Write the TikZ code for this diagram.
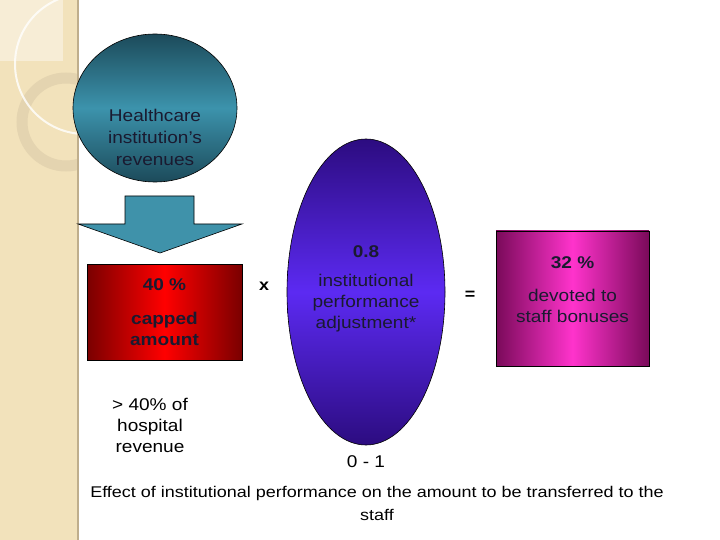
\documentclass[tikz,border=0pt]{standalone}
\usepackage{fontspec}
\setmainfont{Liberation Sans}[FakeStretch=1.12]
\newfontfamily\capfont{Liberation Sans}[FakeStretch=1.16]
\usetikzlibrary{shapes.geometric}
\definecolor{side}{HTML}{F2E2BB}
\definecolor{sidelight}{HTML}{F7EDD6}
\definecolor{sidering}{HTML}{E4D4B0}
\definecolor{sideline}{HTML}{BFAE8C}
\definecolor{tealdark}{HTML}{1C4A5A}
\definecolor{tealmid}{HTML}{3C93AC}
\definecolor{tealarrow}{HTML}{3F92AA}
\definecolor{reddark}{HTML}{7A0000}
\definecolor{redmid}{HTML}{FF0000}
\definecolor{purpdark}{HTML}{2C0C80}
\definecolor{purpmid}{HTML}{5C2AF2}
\definecolor{magdark}{HTML}{7A0A5A}
\definecolor{magmid}{HTML}{FF33CC}
\definecolor{inktext}{HTML}{1A1A30}
\begin{document}
\begin{tikzpicture}[x=1pt,y=-1pt,
  txt/.style={font=\fontsize{17}{21}\selectfont, text=black, align=center, inner sep=0pt},
  intxt/.style={txt, text=inktext},
  boldtxt/.style={txt, text=inktext, font=\fontsize{17}{21}\selectfont\bfseries},
  shapeline/.style={draw=black, line width=0.6pt}]
\useasboundingbox (0,0) rectangle (720,540);
\fill[white] (0,0) rectangle (720,540);
% sidebar
\fill[side] (0,0) rectangle (78,540);
\begin{scope}
  \clip (0,0) rectangle (78,540);
  \fill[sidelight] (0,0) rectangle (63,61);
  \draw[sidering, line width=11pt] (66,122) circle (44);
  \draw[white, line width=2pt, opacity=0.8] (85,64) circle (70);
\end{scope}
\draw[sideline, line width=1.5pt] (78,0) -- (78,540);

% healthcare circle
\shade[shapeline, top color=tealdark, bottom color=tealdark, middle color=tealmid]
  (155,108) ellipse [x radius=82, y radius=74];
\node[ellipse, minimum width=164pt, minimum height=148pt, inner sep=0pt] (rev) at (155,108) {};
\node[intxt, font=\fontsize{17}{22}\selectfont] (revtxt) at (155,137) {Healthcare\\institution’s\\revenues};

% block arrow
\path[shapeline, fill=tealarrow] (125,196) -- (194,196) -- (194,224) -- (242,224)
  -- (160,253) -- (78,224) -- (125,224) -- cycle;
\coordinate (arrowtip) at (160,253);

% red box
\node[draw=black, line width=0.6pt, minimum width=155pt, minimum height=96pt, inner sep=0pt,
      left color=reddark, right color=reddark, middle color=redmid] (cap) at (164.5,312) {};
\node[boldtxt] (captop) at (164.5,285) {40 \%};
\node[boldtxt] (captxt) at (164.5,328.5) {capped\\amount};

\node[txt] (hosp) at (150,425) {> 40\% of\\hospital\\revenue};

\node[txt, font=\fontsize{16}{21}\selectfont\bfseries] (times) at (264,286) {x};

% purple ellipse
\shade[shapeline, top color=purpdark, bottom color=purpdark, middle color=purpmid]
  (366,292) ellipse [x radius=79, y radius=153];
\node[ellipse, minimum width=158pt, minimum height=306pt, inner sep=0pt] (adj) at (366,292) {};
\node[boldtxt] (adjtop) at (366,252) {0.8};
\node[intxt] (adjtxt) at (366,303) {institutional\\performance\\adjustment*};
\node[txt, font=\fontsize{17}{21}\selectfont] (range) at (366,462) {0 - 1};

\node[txt, font=\fontsize{16}{21}\selectfont\bfseries] (equals) at (470,295) {=};

% magenta box
\node[draw=black, line width=0.6pt, minimum width=153pt, minimum height=135pt, inner sep=0pt,
      left color=magdark, right color=magdark, middle color=magmid] (bonus) at (572.5,298.5) {};
\node[boldtxt] (bonustop) at (572.5,263) {32 \%};
\node[intxt] (bonustxt) at (572.5,305.5) {devoted to\\staff bonuses};

% caption
\node[txt, font=\capfont\fontsize{15.5}{23}\selectfont] (caption) at (377,503.5)
  {Effect of institutional performance on the amount to be transferred to the\\staff};
\end{tikzpicture}
\end{document}
